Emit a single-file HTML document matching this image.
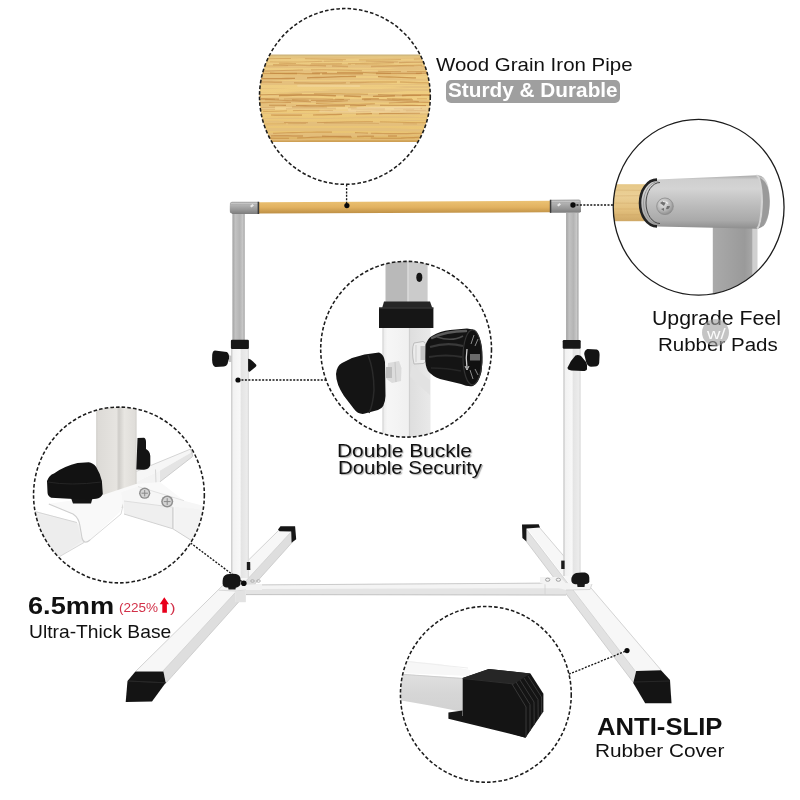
<!DOCTYPE html>
<html><head><meta charset="utf-8">
<style>
html,body{margin:0;padding:0;background:#fff;}
body{width:800px;height:800px;position:relative;overflow:hidden;font-family:"Liberation Sans",sans-serif;}
.t{position:absolute;white-space:nowrap;color:#111;line-height:1;transform-origin:0 0;}
</style></head><body>
<svg width="800" height="800" viewBox="0 0 800 800" style="position:absolute;left:0;top:0"><defs><clipPath id="c1"><ellipse cx="344.9" cy="96.45" rx="85.4" ry="87.9" /></clipPath><clipPath id="c2"><ellipse cx="698.65" cy="207.25" rx="85.4" ry="87.9" /></clipPath><clipPath id="c3"><ellipse cx="406.1" cy="349.25" rx="85.4" ry="87.9" /></clipPath><clipPath id="c4"><ellipse cx="118.95" cy="495.0" rx="85.4" ry="87.9" /></clipPath><clipPath id="c5"><ellipse cx="485.85" cy="694.35" rx="85.4" ry="87.9" /></clipPath><linearGradient id="woodTop" x1="0" y1="0" x2="0" y2="1">
  <stop offset="0" stop-color="#dcc080"/>
  <stop offset="0.05" stop-color="#eccb82"/>
  <stop offset="0.5" stop-color="#efcd80"/>
  <stop offset="0.9" stop-color="#e9c474"/>
  <stop offset="1" stop-color="#d8ac60"/>
</linearGradient>
<linearGradient id="woodBar" x1="0" y1="0" x2="0" y2="1">
  <stop offset="0" stop-color="#ebc274"/>
  <stop offset="0.5" stop-color="#e2b260"/>
  <stop offset="1" stop-color="#bc8e44"/>
</linearGradient>
<linearGradient id="woodR" x1="0" y1="0" x2="0" y2="1">
  <stop offset="0" stop-color="#e6c888"/>
  <stop offset="0.3" stop-color="#ebcf96"/>
  <stop offset="0.7" stop-color="#e2bf7c"/>
  <stop offset="1" stop-color="#cfa866"/>
</linearGradient>
<linearGradient id="cylR" x1="0" y1="0" x2="0" y2="1">
  <stop offset="0" stop-color="#a8a8a8"/>
  <stop offset="0.08" stop-color="#cfcfcf"/>
  <stop offset="0.25" stop-color="#d4d4d4"/>
  <stop offset="0.55" stop-color="#bdbdbd"/>
  <stop offset="0.85" stop-color="#a9a9a9"/>
  <stop offset="1" stop-color="#8e8e8e"/>
</linearGradient>
<linearGradient id="postR" x1="0" y1="0" x2="1" y2="0">
  <stop offset="0" stop-color="#aaaaaa"/>
  <stop offset="0.4" stop-color="#a2a2a2"/>
  <stop offset="0.8" stop-color="#9a9a9a"/>
  <stop offset="1" stop-color="#a8a8a8"/>
</linearGradient>
<linearGradient id="greyPost" x1="0" y1="0" x2="1" y2="0">
  <stop offset="0" stop-color="#a2a2a2"/>
  <stop offset="0.25" stop-color="#c2c2c2"/>
  <stop offset="0.6" stop-color="#b4b4b4"/>
  <stop offset="0.85" stop-color="#c8c8c8"/>
  <stop offset="1" stop-color="#9c9c9c"/>
</linearGradient>
<linearGradient id="conn" x1="0" y1="0" x2="0" y2="1">
  <stop offset="0" stop-color="#a8a8a8"/>
  <stop offset="0.3" stop-color="#b0b0b0"/>
  <stop offset="0.65" stop-color="#989898"/>
  <stop offset="1" stop-color="#7c7c7c"/>
</linearGradient>
<linearGradient id="whitePost" x1="0" y1="0" x2="1" y2="0">
  <stop offset="0" stop-color="#d6d6d6"/>
  <stop offset="0.12" stop-color="#f2f2f2"/>
  <stop offset="0.5" stop-color="#f8f8f8"/>
  <stop offset="0.58" stop-color="#e4e4e4"/>
  <stop offset="1" stop-color="#eeeeee"/>
</linearGradient>
<linearGradient id="c4post" x1="0" y1="0" x2="1" y2="0">
  <stop offset="0" stop-color="#dcdad6"/>
  <stop offset="0.5" stop-color="#e6e4e0"/>
  <stop offset="0.56" stop-color="#cfcdc9"/>
  <stop offset="0.7" stop-color="#e8e6e2"/>
  <stop offset="1" stop-color="#dedcd8"/>
</linearGradient>
<linearGradient id="c3grey" x1="0" y1="0" x2="1" y2="0">
  <stop offset="0" stop-color="#b4b4b4"/>
  <stop offset="0.55" stop-color="#c4c4c4"/>
  <stop offset="0.56" stop-color="#d4d4d4"/>
  <stop offset="1" stop-color="#c8c8c8"/>
</linearGradient>
<linearGradient id="c3white" x1="0" y1="0" x2="1" y2="0">
  <stop offset="0" stop-color="#e8e8e8"/>
  <stop offset="0.1" stop-color="#f6f6f6"/>
  <stop offset="0.55" stop-color="#f0f0f0"/>
  <stop offset="0.57" stop-color="#dedede"/>
  <stop offset="1" stop-color="#e9e9e9"/>
</linearGradient>
<linearGradient id="c5front" x1="0" y1="0" x2="0" y2="1">
  <stop offset="0" stop-color="#e0e0e0"/>
  <stop offset="0.5" stop-color="#d6d6d6"/>
  <stop offset="1" stop-color="#d2d2d2"/>
</linearGradient>
<radialGradient id="knobR" cx="0.35" cy="0.3" r="0.8">
  <stop offset="0" stop-color="#3a3a3a"/>
  <stop offset="0.5" stop-color="#151515"/>
  <stop offset="1" stop-color="#0a0a0a"/>
</radialGradient>
<radialGradient id="screw" cx="0.4" cy="0.35" r="0.7">
  <stop offset="0" stop-color="#e6e6e6"/>
  <stop offset="0.6" stop-color="#b4b4b4"/>
  <stop offset="1" stop-color="#8a8a8a"/>
</radialGradient>
<filter id="grain" x="0" y="0" width="1" height="1" filterUnits="objectBoundingBox">
  <feTurbulence type="fractalNoise" baseFrequency="0.005 0.38" numOctaves="3" seed="4" result="n"/>
  <feColorMatrix in="n" type="matrix" values="0 0 0 0 0.76  0 0 0 0 0.5  0 0 0 0 0.2  0 0 0 -14 7.4" result="m"/>
  <feComposite in="m" in2="SourceGraphic" operator="in"/>
</filter>
</defs><!-- left leg -->
<polygon points="279,530 291,532 163,671 136,671" fill="#f7f7f7"/>
<polygon points="291,532 292.5,542 166,683 163,671" fill="#dedede"/>
<polyline points="136,671 279,530" stroke="#d2d2d2" stroke-width="1" fill="none"/>
<polyline points="163,671 291,532" stroke="#cfcfcf" stroke-width="0.8" fill="none"/>
<polyline points="166,683 292.5,542" stroke="#c8c8c8" stroke-width="0.8" fill="none"/>
<!-- right leg -->
<polygon points="527,530 636,672 633,682 526,541" fill="#e2e2e2"/>
<polygon points="527,528 539,527 661,670 636,672" fill="#f7f7f7"/>
<polyline points="539,527 661,670" stroke="#d4d4d4" stroke-width="1" fill="none"/>
<polyline points="527,530 636,672" stroke="#cfcfcf" stroke-width="0.8" fill="none"/>
<polyline points="526,541 633,682" stroke="#c6c6c6" stroke-width="0.8" fill="none"/>
<!-- back feet -->
<polygon points="278,529.5 280.5,526.3 295.1,526.3 296.2,539.2 291.6,542.8 291.2,531.6 279.5,531.2" fill="#161616"/>
<polygon points="522,524.5 538.7,524.2 540,527.6 526.5,528.4 526.4,541.4 522.4,538" fill="#161616"/>
<!-- crossbar -->
<polygon points="244,584.6 566,582.6 566,595.4 244,594.8" fill="#f4f4f4"/>
<polygon points="244,589 566,588.2 566,594.8 244,594.4" fill="#e4e4e4"/>
<line x1="244" y1="585" x2="566" y2="583" stroke="#cacaca" stroke-width="1"/>
<line x1="244" y1="594.6" x2="566" y2="595" stroke="#c2c2c2" stroke-width="1"/>
<line x1="545" y1="583.5" x2="545" y2="595" stroke="#d0d0d0" stroke-width="0.8"/>
<!-- junction right plate & screws -->
<polygon points="540,577 560,577 566,583 592,584 590,590 566,590 540,583" fill="#f3f3f3"/>
<polyline points="566,590 590,589.5 592,584" stroke="#d0d0d0" stroke-width="0.8" fill="none"/>
<ellipse cx="547.7" cy="579.7" rx="2.2" ry="1.6" fill="none" stroke="#999" stroke-width="0.9"/>
<ellipse cx="558.4" cy="579.7" rx="2.2" ry="1.6" fill="none" stroke="#999" stroke-width="0.9"/>
<!-- left junction plate & screws -->
<polygon points="218.8,590.2 236,585 262,584 262,590 246,590 246,602 235,602 235,591" fill="#f2f2f2"/>
<polyline points="218.8,590.2 235,591 246,590" stroke="#d2d2d2" stroke-width="0.8" fill="none"/>
<rect x="235.2" y="591" width="10.5" height="11.2" fill="#e2e2e2"/>
<ellipse cx="252.5" cy="581" rx="1.8" ry="1.3" fill="none" stroke="#a5a5a5" stroke-width="0.8"/>
<ellipse cx="258.5" cy="581" rx="1.8" ry="1.3" fill="none" stroke="#a5a5a5" stroke-width="0.8"/>

<!-- grey upper posts -->
<rect x="232.4" y="213" width="12.3" height="127" fill="url(#greyPost)"/>
<rect x="566.1" y="213" width="12.4" height="127.5" fill="url(#greyPost)"/>
<!-- white lower posts -->
<rect x="231.2" y="348" width="17.6" height="230" fill="url(#whitePost)"/>
<line x1="231.7" y1="348" x2="231.7" y2="578" stroke="#cdcdcd" stroke-width="1"/>
<line x1="248.3" y1="348" x2="248.3" y2="578" stroke="#d8d8d8" stroke-width="1"/>
<rect x="563.5" y="348" width="17" height="228" fill="url(#whitePost)"/>
<line x1="564" y1="348" x2="564" y2="576" stroke="#cdcdcd" stroke-width="1"/>
<line x1="580" y1="348" x2="580" y2="576" stroke="#d8d8d8" stroke-width="1"/>
<!-- collars -->
<rect x="230.9" y="339.7" width="18" height="9.2" rx="1.2" fill="#171717"/>
<rect x="562.7" y="340.1" width="18" height="8.7" rx="1.2" fill="#171717"/>
<!-- left collar knobs -->
<polygon points="229,355 231.5,356 231.5,362 229,362" fill="#c4c4c4"/>
<path d="M214.8,350.6 L226.8,352.1 Q229.5,354 229,358.5 L227.5,364 Q226.5,366 224,366.5 L215.5,367.1 Q212.2,366 212.1,360 L212.2,355 Q212.5,351 214.8,350.6 Z" fill="#141414"/>
<path d="M248.1,358.9 Q250,358.5 253,361.5 L256,364.5 Q257,366 255.5,367 L250,371.5 Q248.1,372.5 248.1,370 Z" fill="#141414"/>
<!-- right collar knobs -->
<path d="M587.5,349.1 L596.9,349.5 Q599.5,350.5 599.6,354.8 L599.2,363 Q598.8,366 595,366.6 L590.9,366.8 Q587,366 586,361.5 L584.2,354 Q584.5,350 587.5,349.1 Z" fill="#141414"/>
<path d="M575.5,355.5 Q578,354.5 581,356 L586,362 Q587.8,365 587,369 Q586.5,371 583,371 L571.5,370.4 Q567,370 567.6,367.5 Q570,361 575.5,355.5 Z" fill="#121212"/>
<!-- base knobs -->
<path d="M246.8,562 L250.2,562 L250.3,570 L246.8,570 Z" fill="#1c1c1c"/>
<path d="M228,586 L236,586 L235.5,589.5 L228.5,589.5 Z" fill="#1a1a1a"/>
<path d="M222.6,581 Q222.8,575.5 227,574.2 Q231,573.6 236,573.9 Q240.3,574.8 240.5,579 L240.5,584.5 Q239,587.6 235,587.7 L226,587.6 Q222.8,587 222.6,583.5 Z" fill="#161616"/>
<path d="M561.2,560.6 L564.6,560.6 L564.6,569 L561.2,569 Z" fill="#1c1c1c"/>
<path d="M577,583 L585,583 L584.5,587 L577.5,587 Z" fill="#1a1a1a"/>
<path d="M571.3,580 Q571.5,574.5 576,573 Q580,572.2 585,572.6 Q589,573.5 589.3,577.5 L589.3,582 Q588,584.2 584,584.3 L575,584.2 Q571.5,583.8 571.3,580 Z" fill="#161616"/>
<!-- front feet -->
<polygon points="135.4,671.4 163.4,671.4 165.7,682.8 152,701.5 125.7,702 127.5,681" fill="#141414"/>
<polygon points="128,681 165.7,682.8" stroke="#2a2a2a" stroke-width="0.8" fill="none"/>
<polygon points="636.2,671 661,670.2 670,680 671.5,703.2 645.2,703.2 633.2,683" fill="#141414"/>
<polyline points="634,682 670,681" stroke="#2c2c2c" stroke-width="0.8" fill="none"/>

<!-- wood bar -->
<polygon points="258.5,202.2 550.5,200.8 550.5,212.3 258.5,213.6" fill="url(#woodBar)"/>
<!-- corner connectors -->
<path d="M232,201.8 L259,201.8 L259,214 L232.5,214 L230,212.5 Q229.6,208 230,203.5 Q230.3,201.8 232,201.8 Z" fill="url(#conn)"/>
<line x1="231" y1="203.5" x2="258" y2="203.5" stroke="#c4c4c4" stroke-width="1.2"/>
<rect x="257.6" y="201.8" width="1.6" height="12.2" fill="#3a3a3a"/>
<path d="M250,206 l2.5,-2 l1.5,1.5 l-2.5,2 z" fill="#e8e8e8"/>
<path d="M550,199.8 L579,199.6 Q581,199.8 581,202.5 L581,211.2 Q580.5,212.8 578.5,212.8 L550,212.8 Z" fill="url(#conn)"/>
<line x1="551" y1="201.5" x2="579.5" y2="201.3" stroke="#c4c4c4" stroke-width="1.2"/>
<rect x="549.8" y="199.8" width="1.5" height="13" fill="#3a3a3a"/>
<path d="M557,205 l2.5,-2 l1.5,1.5 l-2.5,2 z" fill="#e8e8e8"/>
<g stroke="#151515" stroke-width="1.35" stroke-dasharray="2 1.45" fill="none">
  <line x1="346.6" y1="184.5" x2="346.6" y2="205"/>
  <line x1="573" y1="205" x2="613.5" y2="205"/>
  <line x1="238" y1="380" x2="326" y2="380"/>
  <line x1="190.6" y1="543" x2="244" y2="583.2"/>
  <line x1="568.9" y1="674.2" x2="627" y2="650.6"/>
</g>
<g fill="#0a0a0a">
  <circle cx="346.9" cy="205.6" r="2.6"/>
  <circle cx="573" cy="205" r="2.7"/>
  <circle cx="238" cy="380" r="2.6"/>
  <circle cx="243.8" cy="583.2" r="2.8"/>
  <circle cx="627" cy="650.6" r="2.6"/>
</g>
<path d="M159.7,604.3 L164.3,597.3 L169,604.3 L166.9,604.3 L166.9,612.7 L162.3,612.7 L162.3,604.3 Z" fill="#e8001c"/>
<ellipse cx="344.9" cy="96.45" rx="85.4" ry="87.9" fill="#fff"/><g clip-path="url(#c1)"><rect x="255" y="54.8" width="180" height="87.2" fill="url(#woodTop)"/>
<rect x="255" y="55" width="180" height="86" fill="#fff" filter="url(#grain)" opacity="0.75"/>
<path d="M245.0 59.2 L251.0 59.1 L257.0 58.9 L263.0 58.8 L269.0 58.7 L275.0 58.6 L281.0 58.5 L287.0 58.5 L293.0 58.5 L299.0 58.6 L305.0 58.7 L311.0 58.8 L317.0 58.9 L323.0 59.1 L329.0 59.2 L335.0 59.4 L341.0 59.5 L347.0 59.7 L353.0 59.8 L359.0 59.9 L365.0 59.9 L371.0 59.9 L377.0 59.9 L383.0 59.9 L389.0 59.8 L395.0 59.7 L401.0 59.5 L407.0 59.4 L413.0 59.2 L419.0 59.0 L425.0 58.9 L431.0 58.8 L437.0 58.6 L443.0 58.6" stroke="#c08440" stroke-width="0.91" stroke-opacity="0.47" stroke-dasharray="52 14 41 13 42 13 22 25 60 21 45 9" stroke-dashoffset="6" fill="none"/>
<path d="M245.0 60.9 L251.0 61.1 L257.0 61.3 L263.0 61.5 L269.0 61.7 L275.0 61.9 L281.0 62.0 L287.0 62.0 L293.0 62.0 L299.0 62.0 L305.0 61.8 L311.0 61.7 L317.0 61.5 L323.0 61.2 L329.0 61.1 L335.0 60.9 L341.0 60.8 L347.0 60.7 L353.0 60.8 L359.0 60.8 L365.0 61.0 L371.0 61.2 L377.0 61.4 L383.0 61.6 L389.0 61.8 L395.0 61.9 L401.0 62.0 L407.0 62.1 L413.0 62.0 L419.0 61.9 L425.0 61.7 L431.0 61.6 L437.0 61.3 L443.0 61.1" stroke="#c08440" stroke-width="0.94" stroke-opacity="0.38" stroke-dasharray="28 24 52 2 19 23 32 25 29 4 41 20" stroke-dashoffset="27" fill="none"/>
<path d="M245.0 62.4 L251.0 62.5 L257.0 62.7 L263.0 62.8 L269.0 63.0 L275.0 63.1 L281.0 63.2 L287.0 63.4 L293.0 63.5 L299.0 63.6 L305.0 63.7 L311.0 63.7 L317.0 63.8 L323.0 63.8 L329.0 63.8 L335.0 63.8 L341.0 63.7 L347.0 63.7 L353.0 63.6 L359.0 63.5 L365.0 63.4 L371.0 63.3 L377.0 63.1 L383.0 63.0 L389.0 62.9 L395.0 62.7 L401.0 62.6 L407.0 62.4 L413.0 62.3 L419.0 62.2 L425.0 62.1 L431.0 62.0 L437.0 61.9 L443.0 61.9" stroke="#c08440" stroke-width="1.08" stroke-opacity="0.44" stroke-dasharray="21 4 11 20 17 15 31 6 46 5 41 5" stroke-dashoffset="22" fill="none"/>
<path d="M245.0 66.4 L251.0 66.4 L257.0 66.3 L263.0 66.3 L269.0 66.2 L275.0 66.1 L281.0 65.9 L287.0 65.7 L293.0 65.5 L299.0 65.3 L305.0 65.1 L311.0 65.0 L317.0 64.8 L323.0 64.6 L329.0 64.5 L335.0 64.4 L341.0 64.3 L347.0 64.3 L353.0 64.3 L359.0 64.4 L365.0 64.5 L371.0 64.6 L377.0 64.7 L383.0 64.9 L389.0 65.1 L395.0 65.3 L401.0 65.5 L407.0 65.7 L413.0 65.9 L419.0 66.0 L425.0 66.2 L431.0 66.3 L437.0 66.3 L443.0 66.4" stroke="#c08440" stroke-width="0.77" stroke-opacity="0.39" stroke-dasharray="54 7 29 22 41 4 59 7 21 20 25 9" stroke-dashoffset="47" fill="none"/>
<path d="M245.0 65.1 L251.0 65.0 L257.0 64.9 L263.0 64.8 L269.0 64.8 L275.0 64.8 L281.0 64.8 L287.0 64.9 L293.0 65.0 L299.0 65.1 L305.0 65.3 L311.0 65.5 L317.0 65.6 L323.0 65.8 L329.0 66.0 L335.0 66.1 L341.0 66.3 L347.0 66.4 L353.0 66.4 L359.0 66.5 L365.0 66.5 L371.0 66.4 L377.0 66.3 L383.0 66.2 L389.0 66.1 L395.0 66.0 L401.0 65.8 L407.0 65.6 L413.0 65.4 L419.0 65.3 L425.0 65.1 L431.0 65.0 L437.0 64.9 L443.0 64.8" stroke="#c08440" stroke-width="1.55" stroke-opacity="0.43" stroke-dasharray="32 24 33 15 53 6 16 23 51 8 18 19" stroke-dashoffset="76" fill="none"/>
<path d="M245.0 71.5 L251.0 71.4 L257.0 71.3 L263.0 71.1 L269.0 71.0 L275.0 70.8 L281.0 70.6 L287.0 70.4 L293.0 70.3 L299.0 70.1 L305.0 70.0 L311.0 69.9 L317.0 69.9 L323.0 69.9 L329.0 70.0 L335.0 70.1 L341.0 70.2 L347.0 70.3 L353.0 70.5 L359.0 70.7 L365.0 70.9 L371.0 71.1 L377.0 71.2 L383.0 71.4 L389.0 71.5 L395.0 71.6 L401.0 71.6 L407.0 71.6 L413.0 71.6 L419.0 71.5 L425.0 71.4 L431.0 71.2 L437.0 71.0 L443.0 70.9" stroke="#c08440" stroke-width="0.91" stroke-opacity="0.57" stroke-dasharray="13 3 58 7 45 8 51 16 23 6 45 4" stroke-dashoffset="68" fill="none"/>
<path d="M245.0 72.5 L251.0 72.6 L257.0 72.7 L263.0 72.9 L269.0 73.1 L275.0 73.3 L281.0 73.4 L287.0 73.5 L293.0 73.5 L299.0 73.5 L305.0 73.4 L311.0 73.2 L317.0 73.0 L323.0 72.9 L329.0 72.7 L335.0 72.5 L341.0 72.4 L347.0 72.4 L353.0 72.4 L359.0 72.5 L365.0 72.7 L371.0 72.8 L377.0 73.0 L383.0 73.2 L389.0 73.3 L395.0 73.5 L401.0 73.5 L407.0 73.5 L413.0 73.4 L419.0 73.3 L425.0 73.1 L431.0 72.9 L437.0 72.8 L443.0 72.6" stroke="#c08440" stroke-width="1.29" stroke-opacity="0.63" stroke-dasharray="19 2 22 12 11 6 27 15 15 10 54 25" stroke-dashoffset="47" fill="none"/>
<path d="M245.0 73.3 L251.0 73.3 L257.0 73.4 L263.0 73.4 L269.0 73.5 L275.0 73.5 L281.0 73.5 L287.0 73.6 L293.0 73.6 L299.0 73.6 L305.0 73.7 L311.0 73.7 L317.0 73.7 L323.0 73.7 L329.0 73.7 L335.0 73.7 L341.0 73.7 L347.0 73.7 L353.0 73.7 L359.0 73.7 L365.0 73.7 L371.0 73.7 L377.0 73.6 L383.0 73.6 L389.0 73.6 L395.0 73.5 L401.0 73.5 L407.0 73.4 L413.0 73.4 L419.0 73.4 L425.0 73.3 L431.0 73.3 L437.0 73.2 L443.0 73.2" stroke="#c08440" stroke-width="1.51" stroke-opacity="0.64" stroke-dasharray="55 18 58 2 41 13 46 9 60 4 36 19" stroke-dashoffset="56" fill="none"/>
<path d="M245.0 78.4 L251.0 78.5 L257.0 78.6 L263.0 78.7 L269.0 78.7 L275.0 78.7 L281.0 78.6 L287.0 78.5 L293.0 78.4 L299.0 78.2 L305.0 78.0 L311.0 77.7 L317.0 77.5 L323.0 77.3 L329.0 77.1 L335.0 76.9 L341.0 76.7 L347.0 76.6 L353.0 76.5 L359.0 76.5 L365.0 76.5 L371.0 76.5 L377.0 76.6 L383.0 76.8 L389.0 77.0 L395.0 77.2 L401.0 77.4 L407.0 77.6 L413.0 77.8 L419.0 78.0 L425.0 78.2 L431.0 78.4 L437.0 78.6 L443.0 78.7" stroke="#c08440" stroke-width="1.28" stroke-opacity="0.75" stroke-dasharray="44 23 53 12 49 22 38 16 28 15 40 4" stroke-dashoffset="70" fill="none"/>
<path d="M245.0 82.0 L251.0 82.0 L257.0 81.9 L263.0 82.0 L269.0 82.0 L275.0 82.2 L281.0 82.3 L287.0 82.5 L293.0 82.7 L299.0 82.9 L305.0 83.0 L311.0 83.2 L317.0 83.2 L323.0 83.2 L329.0 83.2 L335.0 83.1 L341.0 82.9 L347.0 82.8 L353.0 82.6 L359.0 82.4 L365.0 82.2 L371.0 82.1 L377.0 82.0 L383.0 81.9 L389.0 81.9 L395.0 82.0 L401.0 82.1 L407.0 82.3 L413.0 82.5 L419.0 82.7 L425.0 82.8 L431.0 83.0 L437.0 83.1 L443.0 83.2" stroke="#c08440" stroke-width="1.53" stroke-opacity="0.45" stroke-dasharray="38 12 52 4 47 3 39 13 20 18 34 16" stroke-dashoffset="1" fill="none"/>
<path d="M245.0 95.2 L251.0 95.1 L257.0 94.9 L263.0 94.8 L269.0 94.6 L275.0 94.5 L281.0 94.3 L287.0 94.2 L293.0 94.1 L299.0 93.9 L305.0 93.9 L311.0 93.8 L317.0 93.7 L323.0 93.7 L329.0 93.7 L335.0 93.8 L341.0 93.8 L347.0 93.9 L353.0 94.0 L359.0 94.1 L365.0 94.3 L371.0 94.4 L377.0 94.6 L383.0 94.7 L389.0 94.9 L395.0 95.0 L401.0 95.2 L407.0 95.3 L413.0 95.4 L419.0 95.5 L425.0 95.5 L431.0 95.5 L437.0 95.6 L443.0 95.5" stroke="#c08440" stroke-width="1.05" stroke-opacity="0.58" stroke-dasharray="17 23 42 12 54 10 43 7 30 21 56 22" stroke-dashoffset="25" fill="none"/>
<path d="M245.0 96.5 L251.0 96.5 L257.0 96.4 L263.0 96.2 L269.0 96.1 L275.0 95.8 L281.0 95.6 L287.0 95.4 L293.0 95.2 L299.0 95.0 L305.0 95.0 L311.0 95.0 L317.0 95.1 L323.0 95.2 L329.0 95.4 L335.0 95.7 L341.0 95.9 L347.0 96.1 L353.0 96.3 L359.0 96.4 L365.0 96.5 L371.0 96.4 L377.0 96.3 L383.0 96.2 L389.0 96.0 L395.0 95.7 L401.0 95.5 L407.0 95.3 L413.0 95.1 L419.0 95.0 L425.0 95.0 L431.0 95.0 L437.0 95.1 L443.0 95.3" stroke="#c08440" stroke-width="1.46" stroke-opacity="0.74" stroke-dasharray="52 18 57 8 17 12 22 7 30 16 34 9" stroke-dashoffset="36" fill="none"/>
<path d="M245.0 99.5 L251.0 99.5 L257.0 99.4 L263.0 99.4 L269.0 99.3 L275.0 99.2 L281.0 99.1 L287.0 99.0 L293.0 98.9 L299.0 98.8 L305.0 98.8 L311.0 98.8 L317.0 98.9 L323.0 98.9 L329.0 99.0 L335.0 99.1 L341.0 99.2 L347.0 99.3 L353.0 99.4 L359.0 99.5 L365.0 99.5 L371.0 99.4 L377.0 99.4 L383.0 99.3 L389.0 99.2 L395.0 99.1 L401.0 99.0 L407.0 98.9 L413.0 98.8 L419.0 98.8 L425.0 98.8 L431.0 98.9 L437.0 98.9 L443.0 99.0" stroke="#c08440" stroke-width="0.74" stroke-opacity="0.60" stroke-dasharray="10 18 38 9 49 2 15 12 9 21 20 5" stroke-dashoffset="36" fill="none"/>
<path d="M245.0 98.7 L251.0 98.6 L257.0 98.6 L263.0 98.7 L269.0 98.8 L275.0 99.0 L281.0 99.3 L287.0 99.6 L293.0 99.8 L299.0 100.1 L305.0 100.2 L311.0 100.3 L317.0 100.3 L323.0 100.3 L329.0 100.1 L335.0 99.9 L341.0 99.6 L347.0 99.4 L353.0 99.1 L359.0 98.9 L365.0 98.7 L371.0 98.6 L377.0 98.6 L383.0 98.7 L389.0 98.8 L395.0 99.0 L401.0 99.3 L407.0 99.6 L413.0 99.8 L419.0 100.1 L425.0 100.2 L431.0 100.3 L437.0 100.3 L443.0 100.3" stroke="#c08440" stroke-width="1.17" stroke-opacity="0.60" stroke-dasharray="58 18 18 13 17 2 33 18 17 8 26 18" stroke-dashoffset="60" fill="none"/>
<path d="M245.0 100.3 L251.0 100.0 L257.0 99.8 L263.0 99.8 L269.0 99.8 L275.0 100.0 L281.0 100.3 L287.0 100.6 L293.0 100.9 L299.0 101.2 L305.0 101.5 L311.0 101.7 L317.0 101.8 L323.0 101.8 L329.0 101.7 L335.0 101.4 L341.0 101.1 L347.0 100.8 L353.0 100.5 L359.0 100.2 L365.0 99.9 L371.0 99.8 L377.0 99.8 L383.0 99.9 L389.0 100.1 L395.0 100.4 L401.0 100.7 L407.0 101.0 L413.0 101.3 L419.0 101.6 L425.0 101.8 L431.0 101.8 L437.0 101.8 L443.0 101.6" stroke="#c08440" stroke-width="1.12" stroke-opacity="0.61" stroke-dasharray="13 23 46 5 32 16 55 11 38 22 49 24" stroke-dashoffset="16" fill="none"/>
<path d="M245.0 103.3 L251.0 103.0 L257.0 102.8 L263.0 102.6 L269.0 102.4 L275.0 102.3 L281.0 102.3 L287.0 102.4 L293.0 102.5 L299.0 102.7 L305.0 102.9 L311.0 103.2 L317.0 103.5 L323.0 103.8 L329.0 104.0 L335.0 104.2 L341.0 104.3 L347.0 104.4 L353.0 104.4 L359.0 104.2 L365.0 104.1 L371.0 103.9 L377.0 103.6 L383.0 103.3 L389.0 103.0 L395.0 102.8 L401.0 102.6 L407.0 102.4 L413.0 102.3 L419.0 102.3 L425.0 102.4 L431.0 102.5 L437.0 102.7 L443.0 103.0" stroke="#c08440" stroke-width="1.10" stroke-opacity="0.57" stroke-dasharray="45 7 55 25 59 14 49 9 55 22 26 4" stroke-dashoffset="61" fill="none"/>
<path d="M245.0 105.5 L251.0 105.4 L257.0 105.3 L263.0 105.3 L269.0 105.3 L275.0 105.3 L281.0 105.3 L287.0 105.4 L293.0 105.4 L299.0 105.5 L305.0 105.6 L311.0 105.7 L317.0 105.8 L323.0 105.9 L329.0 105.9 L335.0 105.9 L341.0 105.9 L347.0 105.8 L353.0 105.7 L359.0 105.6 L365.0 105.5 L371.0 105.4 L377.0 105.3 L383.0 105.3 L389.0 105.3 L395.0 105.3 L401.0 105.3 L407.0 105.4 L413.0 105.4 L419.0 105.5 L425.0 105.6 L431.0 105.7 L437.0 105.8 L443.0 105.9" stroke="#c08440" stroke-width="1.14" stroke-opacity="0.73" stroke-dasharray="11 20 17 10 49 5 16 14 46 21 44 24" stroke-dashoffset="7" fill="none"/>
<path d="M245.0 108.1 L251.0 107.9 L257.0 107.8 L263.0 107.6 L269.0 107.5 L275.0 107.4 L281.0 107.3 L287.0 107.2 L293.0 107.1 L299.0 107.1 L305.0 107.1 L311.0 107.1 L317.0 107.2 L323.0 107.2 L329.0 107.3 L335.0 107.4 L341.0 107.6 L347.0 107.7 L353.0 107.8 L359.0 108.0 L365.0 108.1 L371.0 108.3 L377.0 108.4 L383.0 108.5 L389.0 108.6 L395.0 108.6 L401.0 108.6 L407.0 108.6 L413.0 108.6 L419.0 108.5 L425.0 108.5 L431.0 108.4 L437.0 108.2 L443.0 108.1" stroke="#c08440" stroke-width="1.17" stroke-opacity="0.58" stroke-dasharray="46 17 35 21 37 9 28 21 55 7 52 24" stroke-dashoffset="16" fill="none"/>
<path d="M245.0 109.8 L251.0 109.7 L257.0 109.6 L263.0 109.5 L269.0 109.3 L275.0 109.2 L281.0 109.0 L287.0 108.8 L293.0 108.6 L299.0 108.4 L305.0 108.3 L311.0 108.3 L317.0 108.3 L323.0 108.3 L329.0 108.4 L335.0 108.6 L341.0 108.7 L347.0 108.9 L353.0 109.1 L359.0 109.3 L365.0 109.5 L371.0 109.6 L377.0 109.7 L383.0 109.8 L389.0 109.8 L395.0 109.7 L401.0 109.6 L407.0 109.5 L413.0 109.3 L419.0 109.1 L425.0 108.9 L431.0 108.7 L437.0 108.5 L443.0 108.4" stroke="#c08440" stroke-width="1.53" stroke-opacity="0.46" stroke-dasharray="9 24 35 11 50 15 34 18 11 14 30 24" stroke-dashoffset="38" fill="none"/>
<path d="M245.0 111.6 L251.0 111.7 L257.0 111.6 L263.0 111.6 L269.0 111.4 L275.0 111.3 L281.0 111.1 L287.0 110.8 L293.0 110.6 L299.0 110.5 L305.0 110.3 L311.0 110.3 L317.0 110.3 L323.0 110.4 L329.0 110.5 L335.0 110.7 L341.0 110.9 L347.0 111.1 L353.0 111.3 L359.0 111.5 L365.0 111.6 L371.0 111.7 L377.0 111.6 L383.0 111.6 L389.0 111.4 L395.0 111.2 L401.0 111.0 L407.0 110.8 L413.0 110.6 L419.0 110.4 L425.0 110.3 L431.0 110.3 L437.0 110.3 L443.0 110.4" stroke="#c08440" stroke-width="0.99" stroke-opacity="0.49" stroke-dasharray="55 13 24 6 40 23 15 20 9 6 20 18" stroke-dashoffset="50" fill="none"/>
<path d="M245.0 114.6 L251.0 114.7 L257.0 114.8 L263.0 114.9 L269.0 115.0 L275.0 115.1 L281.0 115.1 L287.0 115.1 L293.0 115.1 L299.0 115.1 L305.0 115.0 L311.0 115.0 L317.0 114.9 L323.0 114.8 L329.0 114.7 L335.0 114.6 L341.0 114.4 L347.0 114.3 L353.0 114.1 L359.0 114.0 L365.0 113.9 L371.0 113.7 L377.0 113.6 L383.0 113.5 L389.0 113.4 L395.0 113.3 L401.0 113.3 L407.0 113.2 L413.0 113.2 L419.0 113.2 L425.0 113.2 L431.0 113.3 L437.0 113.4 L443.0 113.4" stroke="#c08440" stroke-width="1.18" stroke-opacity="0.69" stroke-dasharray="35 8 18 14 31 11 29 14 16 7 41 17" stroke-dashoffset="49" fill="none"/>
<path d="M245.0 121.7 L251.0 121.8 L257.0 121.9 L263.0 122.0 L269.0 122.2 L275.0 122.3 L281.0 122.5 L287.0 122.6 L293.0 122.7 L299.0 122.7 L305.0 122.7 L311.0 122.7 L317.0 122.6 L323.0 122.5 L329.0 122.4 L335.0 122.2 L341.0 122.1 L347.0 121.9 L353.0 121.8 L359.0 121.8 L365.0 121.7 L371.0 121.7 L377.0 121.8 L383.0 121.9 L389.0 122.0 L395.0 122.2 L401.0 122.3 L407.0 122.5 L413.0 122.6 L419.0 122.7 L425.0 122.7 L431.0 122.7 L437.0 122.7 L443.0 122.6" stroke="#c08440" stroke-width="0.79" stroke-opacity="0.68" stroke-dasharray="50 23 24 9 56 7 60 22 15 8 46 8" stroke-dashoffset="34" fill="none"/>
<path d="M245.0 124.0 L251.0 124.0 L257.0 124.0 L263.0 124.0 L269.0 123.9 L275.0 123.9 L281.0 123.8 L287.0 123.7 L293.0 123.6 L299.0 123.6 L305.0 123.5 L311.0 123.4 L317.0 123.3 L323.0 123.3 L329.0 123.2 L335.0 123.2 L341.0 123.2 L347.0 123.2 L353.0 123.2 L359.0 123.3 L365.0 123.3 L371.0 123.4 L377.0 123.5 L383.0 123.6 L389.0 123.6 L395.0 123.7 L401.0 123.8 L407.0 123.9 L413.0 123.9 L419.0 124.0 L425.0 124.0 L431.0 124.0 L437.0 124.0 L443.0 123.9" stroke="#c08440" stroke-width="0.76" stroke-opacity="0.39" stroke-dasharray="44 2 18 18 55 24 14 14 47 14 44 6" stroke-dashoffset="3" fill="none"/>
<path d="M245.0 133.6 L251.0 133.6 L257.0 133.6 L263.0 133.5 L269.0 133.4 L275.0 133.2 L281.0 133.0 L287.0 132.8 L293.0 132.6 L299.0 132.5 L305.0 132.3 L311.0 132.2 L317.0 132.1 L323.0 132.1 L329.0 132.1 L335.0 132.2 L341.0 132.3 L347.0 132.5 L353.0 132.6 L359.0 132.8 L365.0 133.0 L371.0 133.2 L377.0 133.4 L383.0 133.5 L389.0 133.6 L395.0 133.6 L401.0 133.6 L407.0 133.6 L413.0 133.4 L419.0 133.3 L425.0 133.1 L431.0 132.9 L437.0 132.7 L443.0 132.6" stroke="#c08440" stroke-width="1.12" stroke-opacity="0.56" stroke-dasharray="16 6 19 21 59 23 13 3 57 13 48 10" stroke-dashoffset="34" fill="none"/>
<path d="M245.0 136.2 L251.0 136.1 L257.0 136.0 L263.0 135.9 L269.0 135.9 L275.0 135.8 L281.0 135.8 L287.0 135.8 L293.0 135.9 L299.0 135.9 L305.0 136.0 L311.0 136.1 L317.0 136.2 L323.0 136.3 L329.0 136.4 L335.0 136.4 L341.0 136.4 L347.0 136.5 L353.0 136.4 L359.0 136.4 L365.0 136.3 L371.0 136.3 L377.0 136.2 L383.0 136.1 L389.0 136.0 L395.0 135.9 L401.0 135.9 L407.0 135.8 L413.0 135.8 L419.0 135.9 L425.0 135.9 L431.0 136.0 L437.0 136.0 L443.0 136.1" stroke="#c08440" stroke-width="1.47" stroke-opacity="0.60" stroke-dasharray="52 6 32 19 29 6 17 14 9 23 50 18" stroke-dashoffset="32" fill="none"/>
<path d="M245.0 137.2 L251.0 137.4 L257.0 137.7 L263.0 137.9 L269.0 138.1 L275.0 138.3 L281.0 138.3 L287.0 138.3 L293.0 138.1 L299.0 137.9 L305.0 137.7 L311.0 137.4 L317.0 137.1 L323.0 137.0 L329.0 136.8 L335.0 136.8 L341.0 136.9 L347.0 137.0 L353.0 137.2 L359.0 137.5 L365.0 137.8 L371.0 138.0 L377.0 138.2 L383.0 138.3 L389.0 138.3 L395.0 138.2 L401.0 138.1 L407.0 137.8 L413.0 137.6 L419.0 137.3 L425.0 137.1 L431.0 136.9 L437.0 136.8 L443.0 136.8" stroke="#c08440" stroke-width="1.07" stroke-opacity="0.64" stroke-dasharray="50 8 55 19 48 21 29 23 54 18 48 20" stroke-dashoffset="6" fill="none"/>
<path d="M298.1 85.7 l61.3 0.3" stroke="#f3dcae" stroke-width="2.03" stroke-opacity="0.45" fill="none" stroke-linecap="round"/>
<path d="M246.1 108.5 l173.4 -0.3" stroke="#f3dcae" stroke-width="2.50" stroke-opacity="0.45" fill="none" stroke-linecap="round"/>
<path d="M320.3 111.4 l124.0 1.0" stroke="#f3dcae" stroke-width="2.08" stroke-opacity="0.45" fill="none" stroke-linecap="round"/>
<path d="M349.3 110.0 l151.4 -1.0" stroke="#f3dcae" stroke-width="2.97" stroke-opacity="0.45" fill="none" stroke-linecap="round"/>
<path d="M357.5 107.8 l90.8 -0.9" stroke="#f3dcae" stroke-width="2.10" stroke-opacity="0.45" fill="none" stroke-linecap="round"/>
<rect x="255" y="54.5" width="180" height="1.2" fill="#c8b07a" opacity="0.8"/>
<rect x="255" y="140.5" width="180" height="1.5" fill="#c99a50" opacity="0.7"/>
</g><ellipse cx="344.9" cy="96.45" rx="85.4" ry="87.9" fill="none" stroke="#1c1c1c" stroke-width="1.55" stroke-dasharray="3.6 2.1"/><ellipse cx="698.65" cy="207.25" rx="85.4" ry="87.9" fill="#fff"/><g clip-path="url(#c2)"><rect x="605" y="184.2" width="56" height="37" fill="url(#woodR)"/>
<g stroke="#c9a060" stroke-opacity="0.45" stroke-width="0.8">
<line x1="605" y1="190" x2="660" y2="190.5"/><line x1="605" y1="196" x2="660" y2="195.5"/><line x1="605" y1="203" x2="660" y2="203.5"/><line x1="605" y1="209" x2="660" y2="209"/><line x1="605" y1="215" x2="660" y2="214.5"/>
</g>
<rect x="712.8" y="226" width="40" height="80" fill="url(#postR)"/>
<rect x="752.5" y="226" width="5" height="80" fill="#d0d0d0"/>
<path d="M657,179.6 L758,175.3 Q769.5,176 769.7,201 Q769.5,227 758,228.7 L657,226.4 A17,23.4 0 0 1 657,179.6 Z" fill="url(#cylR)"/>
<path d="M657,179.6 A17,23.4 0 0 0 657,226.4" stroke="#222" stroke-width="2.6" fill="none"/>
<path d="M658.5,181.6 A15,21.4 0 0 0 658.5,224.4" stroke="#9a9a9a" stroke-width="1" fill="none"/>
<path d="M660,182.5 A14,20.5 0 0 0 660,223.5" stroke="#3a3a3a" stroke-width="0.9" fill="none"/>
<path d="M756.5,175.5 Q761,176 762,200 Q761,226 757,228.5" stroke="#d4d4d4" stroke-width="2" fill="none"/>
<path d="M760,178 Q769.5,182 769.7,201 Q769.5,222 760,226 Q763,215 763,202 Q763,189 760,178 Z" fill="#9a9a9a"/>
<circle cx="665" cy="206.3" r="8.3" fill="url(#screw)" stroke="#8c8c8c" stroke-width="0.8"/>
<path d="M660,203 q3,-3 6,-1 l-2,4 z M666,209 q3,1 4,-3 l-3,0 z M661,209 l3,2 l0,-3 z" fill="#707070"/>
<path d="M663,201.5 q3,0 5,2" stroke="#f0f0f0" stroke-width="1.2" fill="none"/>
</g><ellipse cx="698.65" cy="207.25" rx="85.4" ry="87.9" fill="none" stroke="#1c1c1c" stroke-width="1.3"/><ellipse cx="406.1" cy="349.25" rx="85.4" ry="87.9" fill="#fff"/><g clip-path="url(#c3)"><!-- grey upper post -->
<rect x="385.5" y="255" width="22.4" height="47" fill="#b9b9b9"/>
<rect x="407.9" y="255" width="19.7" height="47" fill="#cbcbcb"/>
<line x1="408" y1="255" x2="408" y2="302" stroke="#e0e0e0" stroke-width="1.2"/>
<ellipse cx="419.3" cy="277.3" rx="3" ry="4.6" fill="#161616"/>
<!-- white lower post -->
<rect x="382.5" y="326" width="48" height="120" fill="url(#c3white)"/>
<line x1="383" y1="326" x2="383" y2="446" stroke="#d4d4d4" stroke-width="1"/>
<line x1="409.5" y1="326" x2="409.5" y2="446" stroke="#d0d0d0" stroke-width="1.2"/>
<!-- shadow under right bolt -->
<path d="M412,365 Q420,372 430,380 L430,395 Q418,385 410,376 Z" fill="#e2e2e2"/>
<!-- black sleeve -->
<path d="M382,308.5 L384,301.5 L430,301.5 L432.5,308.5 Z" fill="#262626"/>
<rect x="379" y="307.5" width="54.4" height="20.5" fill="#161616"/>
<line x1="379" y1="308" x2="433.4" y2="308" stroke="#404040" stroke-width="1"/>
<!-- left bolt -->
<polygon points="388,363 399,361 401.5,368 401,381 392,383 386.5,379" fill="#dcdcdc"/>
<rect x="386" y="367" width="6" height="11" fill="#bdbdbd"/>
<line x1="395" y1="362" x2="396" y2="382" stroke="#c6c6c6" stroke-width="1"/>
<!-- left knob -->
<path d="M364.5,354.5 L379,352.5 Q384,354 385,362 L385.5,396 Q385,408 378,410 L364,413.8 Q358,414.5 354,409 L344,396 Q336,384 336,374 Q336.5,366 342,363 L352,358 Z" fill="#141414"/>
<path d="M368,355 Q374,370 374,390 Q373,405 369,413" stroke="#2a2a2a" stroke-width="1.5" fill="none"/>
<!-- right bolt -->
<path d="M414,343 L423,341.5 Q426,342 426,348 L426,358 Q426,363 423,363.5 L414,364 Q412.5,358 412.5,352 Q412.5,346 414,343 Z" fill="#ececec" stroke="#b8b8b8" stroke-width="0.9"/>
<rect x="420.5" y="346" width="5.5" height="14" fill="#c4c4c4"/>
<line x1="416" y1="345" x2="416" y2="362" stroke="#cfcfcf" stroke-width="1"/>
<!-- right knob -->
<path d="M425.5,345 Q428,338 432,336 Q440,331 450,330 L467,328.5 Q472,328.5 475,331 Q481,337 482,350 Q483,362 481.5,372 Q479,382 473,386 Q468,387 461,384 L440,379 Q432,376 428,371 Q425,366 425.3,357 Z" fill="#141414"/>
<path d="M432,338 Q446,331 466,331" stroke="#5c5c5c" stroke-width="2.4" fill="none" stroke-linecap="round"/>
<path d="M437,337 Q452,342 463,336" stroke="#4a4a4a" stroke-width="1.6" fill="none"/>
<path d="M430,347 Q447,342 463,346" stroke="#3a3a3a" stroke-width="2.2" fill="none"/>
<path d="M429,357 Q446,354 462,357" stroke="#2e2e2e" stroke-width="2" fill="none"/>
<path d="M431,368 Q447,368 461,371" stroke="#262626" stroke-width="1.6" fill="none"/>
<ellipse cx="472.5" cy="357.3" rx="9.5" ry="27.5" fill="#111" stroke="#333" stroke-width="1.2"/>
<path d="M467,349 Q465.5,358 467,368" stroke="#cfcfcf" stroke-width="1.3" fill="none"/>
<path d="M465,366 l2,4 l2,-4" stroke="#cfcfcf" stroke-width="1" fill="none"/>
<rect x="470" y="354" width="10" height="6.5" fill="#8a8a8a" opacity="0.75"/>
<path d="M471,344 l3,-9 M475,346 l3,-7 M470,370 l3,9 M475,369 l3,6" stroke="#9a9a9a" stroke-width="0.9"/>
</g><ellipse cx="406.1" cy="349.25" rx="85.4" ry="87.9" fill="none" stroke="#1c1c1c" stroke-width="1.55" stroke-dasharray="3.6 2.1"/><ellipse cx="118.95" cy="495.0" rx="85.4" ry="87.9" fill="#fff"/><g clip-path="url(#c4)"><!-- up-right beam -->
<polygon points="136,471.6 190.7,449 193,451.5 160,470.5 136,482" fill="#f6f6f6"/>
<polygon points="160,470.5 193,451.5 192.5,456.6 159.7,482" fill="#e4e4e4"/>
<polygon points="136,482 160,470.5 159.7,482 150,486 136,486" fill="#f3f3f3"/>
<line x1="136" y1="471.6" x2="190.7" y2="449" stroke="#d4d4d4" stroke-width="1"/>
<line x1="159.7" y1="482" x2="192.5" y2="456.6" stroke="#cdcdcd" stroke-width="1"/>
<line x1="190.7" y1="449" x2="192.8" y2="456.5" stroke="#cccccc" stroke-width="1"/>
<line x1="155.5" y1="469.5" x2="156" y2="483" stroke="#d6d6d6" stroke-width="1"/>
<!-- post -->
<rect x="96.6" y="400" width="39.7" height="108" fill="url(#c4post)"/>
<line x1="96.8" y1="400" x2="96.8" y2="506" stroke="#cfcdc9" stroke-width="1"/>
<line x1="136" y1="400" x2="136" y2="484" stroke="#d2d0cc" stroke-width="1"/>
<!-- small knob -->
<path d="M137.5,438 L144,437.8 Q146,438.5 146,442 L146,449 Q150,451 150.3,456 L150.3,465 Q149,469.5 144,469.7 L136.3,469.5 Z" fill="#141414"/>
<!-- left beam: front face -->
<polygon points="25,508 76.9,522.5 82.5,528 84.4,542.3 60,556.3 25,560" fill="#f2f2f2"/>
<polygon points="25,511 76.9,522.5 82,541 60,556.3 25,556" fill="#ededed"/>
<line x1="25" y1="509" x2="76.9" y2="522.5" stroke="#d4d4d4" stroke-width="1"/>
<line x1="60" y1="556.3" x2="84.4" y2="542.3" stroke="#d6d6d6" stroke-width="1"/>
<!-- bracket plate -->
<path d="M48.8,503.8 L96.6,497 L136,484 L160,482 L184,500.7 L172,506.3 L124,500.7 L120,512 L90,540 Q84,545 82,538 L80,524 Q78,517 72,514 Z" fill="#f9f9f9"/>
<path d="M48.8,504 L73,514 Q79,518 80,526 L82,538 Q84,545 90,540" stroke="#cfcfcf" stroke-width="1.1" fill="none"/>
<path d="M90,540 L121,514 L124,501" stroke="#dadada" stroke-width="1" fill="none"/>
<!-- front-right beam box -->
<polygon points="121.3,492.2 138,486.6 184.1,500.7 204,506 204,540 190.7,540 172.9,528.8 124,514" fill="#f6f6f6"/>
<polygon points="124,501 172.9,507.2 172.9,528.8 124,514" fill="#efefef"/>
<polygon points="175,507 198,509 204,512 204,538 190.7,540 175,530" fill="#f3f3f3"/>
<line x1="124" y1="514" x2="172.9" y2="528.8" stroke="#d2d2d2" stroke-width="1"/>
<line x1="172.9" y1="507.2" x2="172.9" y2="528.8" stroke="#cdcdcd" stroke-width="1.3"/>
<line x1="172.9" y1="528.8" x2="190.7" y2="540" stroke="#d0d0d0" stroke-width="1"/>
<line x1="124" y1="501" x2="172.9" y2="507.2" stroke="#dedede" stroke-width="1"/>
<line x1="138" y1="486.6" x2="184.1" y2="500.7" stroke="#e2e2e2" stroke-width="1"/>
<!-- screws -->
<circle cx="144.7" cy="493.2" r="5.6" fill="#8e8e8e"/>
<circle cx="144.7" cy="493.2" r="4.2" fill="#d4d4d4"/>
<path d="M141.5,493.2 h6.4 M144.7,490 v6.4" stroke="#8a8a8a" stroke-width="1"/>
<circle cx="167.2" cy="501.6" r="6" fill="#8e8e8e"/>
<circle cx="167.2" cy="501.6" r="4.5" fill="#d4d4d4"/>
<path d="M163.8,501.6 h6.8 M167.2,498.2 v6.8" stroke="#8a8a8a" stroke-width="1"/>
<!-- big knob -->
<path d="M71,498 L92.5,498 L91,503.4 L73,503.4 Z" fill="#151515"/>
<path d="M47,481 Q49,475 54,473.4 Q65,466 77.5,463.1 L88.7,462.2 Q93,462.8 96.2,466.9 Q100,473 101.9,481 L102.8,494 Q101,498 96.2,498.7 L86.9,499.7 L51.2,497.8 Q47.5,496 47.5,492.2 Z" fill="#121212"/>
<path d="M48,482 Q70,486 101.5,482" stroke="#262626" stroke-width="1" fill="none"/>
</g><ellipse cx="118.95" cy="495.0" rx="85.4" ry="87.9" fill="none" stroke="#1c1c1c" stroke-width="1.55" stroke-dasharray="3.6 2.1"/><ellipse cx="485.85" cy="694.35" rx="85.4" ry="87.9" fill="#fff"/><g clip-path="url(#c5)"><!-- beam top face -->
<polygon points="398,660 440,664 470,670 470,676 398,673" fill="#f7f7f7"/>
<line x1="398" y1="660.5" x2="468" y2="668" stroke="#eeeeee" stroke-width="1"/>
<!-- beam front face -->
<polygon points="398,673.8 463,678 463,712 430,705.6 398,700" fill="url(#c5front)"/>
<line x1="398" y1="674" x2="463" y2="678.5" stroke="#c8c8c8" stroke-width="0.8"/>
<!-- flange -->
<polygon points="448.4,712.5 462.5,710.5 462.5,716 526,731 525.6,737.7 448.4,718.7" fill="#161616"/>
<!-- cap -->
<polygon points="462.7,678 488.8,668.9 530.4,673.6 543.4,693.8 543.4,711.6 525.6,737.7 462.7,719" fill="#141414"/>
<polygon points="462.7,678 488.8,668.9 530.4,673.6 514,684" fill="#262626"/>
<polyline points="462.7,678.5 514,684" stroke="#333" stroke-width="0.8" fill="none"/>
<g stroke="#3c3c3c" stroke-width="0.9" fill="none">
  <path d="M512,684 L526,707 L526,737"/>
  <path d="M516,682 L530,704.5 L530,731"/>
  <path d="M520,680 L534,702 L534.2,725"/>
  <path d="M524,678 L538,699.5 L538.2,719"/>
  <path d="M528,676 L541.5,697 L541.6,714"/>
</g>
</g><ellipse cx="485.85" cy="694.35" rx="85.4" ry="87.9" fill="none" stroke="#1c1c1c" stroke-width="1.55" stroke-dasharray="3.6 2.1"/></svg>
<div class="t" style="left:435.80px;top:57.15px;font-size:17.9px;transform:scaleX(1.1450);">Wood Grain Iron Pipe</div>
<div style="position:absolute;left:445.6px;top:80px;width:174px;height:22.5px;background:#9f9f9f;border-radius:5px;"></div>
<div class="t" style="left:447.95px;top:80.64px;font-size:19.8px;font-weight:bold;transform:scaleX(1.0500);color:#fff;">Sturdy &amp; Durable</div>
<div class="t" style="left:652.41px;top:309.28px;font-size:19.4px;transform:scaleX(1.0974);">Upgrade Feel</div>
<div class="t" style="left:657.86px;top:335.35px;font-size:19.2px;transform:scaleX(1.0688);">Rubber Pads</div>
<div style="position:absolute;left:701.9px;top:318.8px;width:27px;height:27px;border-radius:50%;background:rgba(160,160,160,0.62);"></div>
<div class="t" style="left:706.5px;top:325.5px;font-size:15.5px;color:rgba(255,255,255,0.92);transform:scaleX(1.2);">w/</div>

<div class="t" style="left:337.27px;top:442.16px;font-size:18px;transform:scaleX(1.1628);text-shadow:1px 1px 1px #aaa;">Double Buckle</div>
<div class="t" style="left:338.45px;top:459.93px;font-size:17.8px;transform:scaleX(1.1472);text-shadow:1px 1px 1px #aaa;">Double Security</div>
<div class="t" style="left:28.42px;top:595.23px;font-size:23px;font-weight:bold;transform:scaleX(1.1817);">6.5mm</div>
<div class="t" style="left:118.79px;top:602.37px;font-size:12.2px;transform:scaleX(1.1118);color:#d23048;">(225%</div>
<div class="t" style="left:169.55px;top:602.37px;font-size:12.2px;transform:scaleX(1.3500);color:#d23048;">)</div>
<div class="t" style="left:28.55px;top:622.52px;font-size:18.4px;transform:scaleX(1.0463);">Ultra-Thick Base</div>
<div class="t" style="left:596.52px;top:714.85px;font-size:23.8px;font-weight:bold;transform:scaleX(1.0783);">ANTI-SLIP</div>
<div class="t" style="left:595.33px;top:741.81px;font-size:18.3px;transform:scaleX(1.1366);">Rubber Cover</div>
</body></html>
